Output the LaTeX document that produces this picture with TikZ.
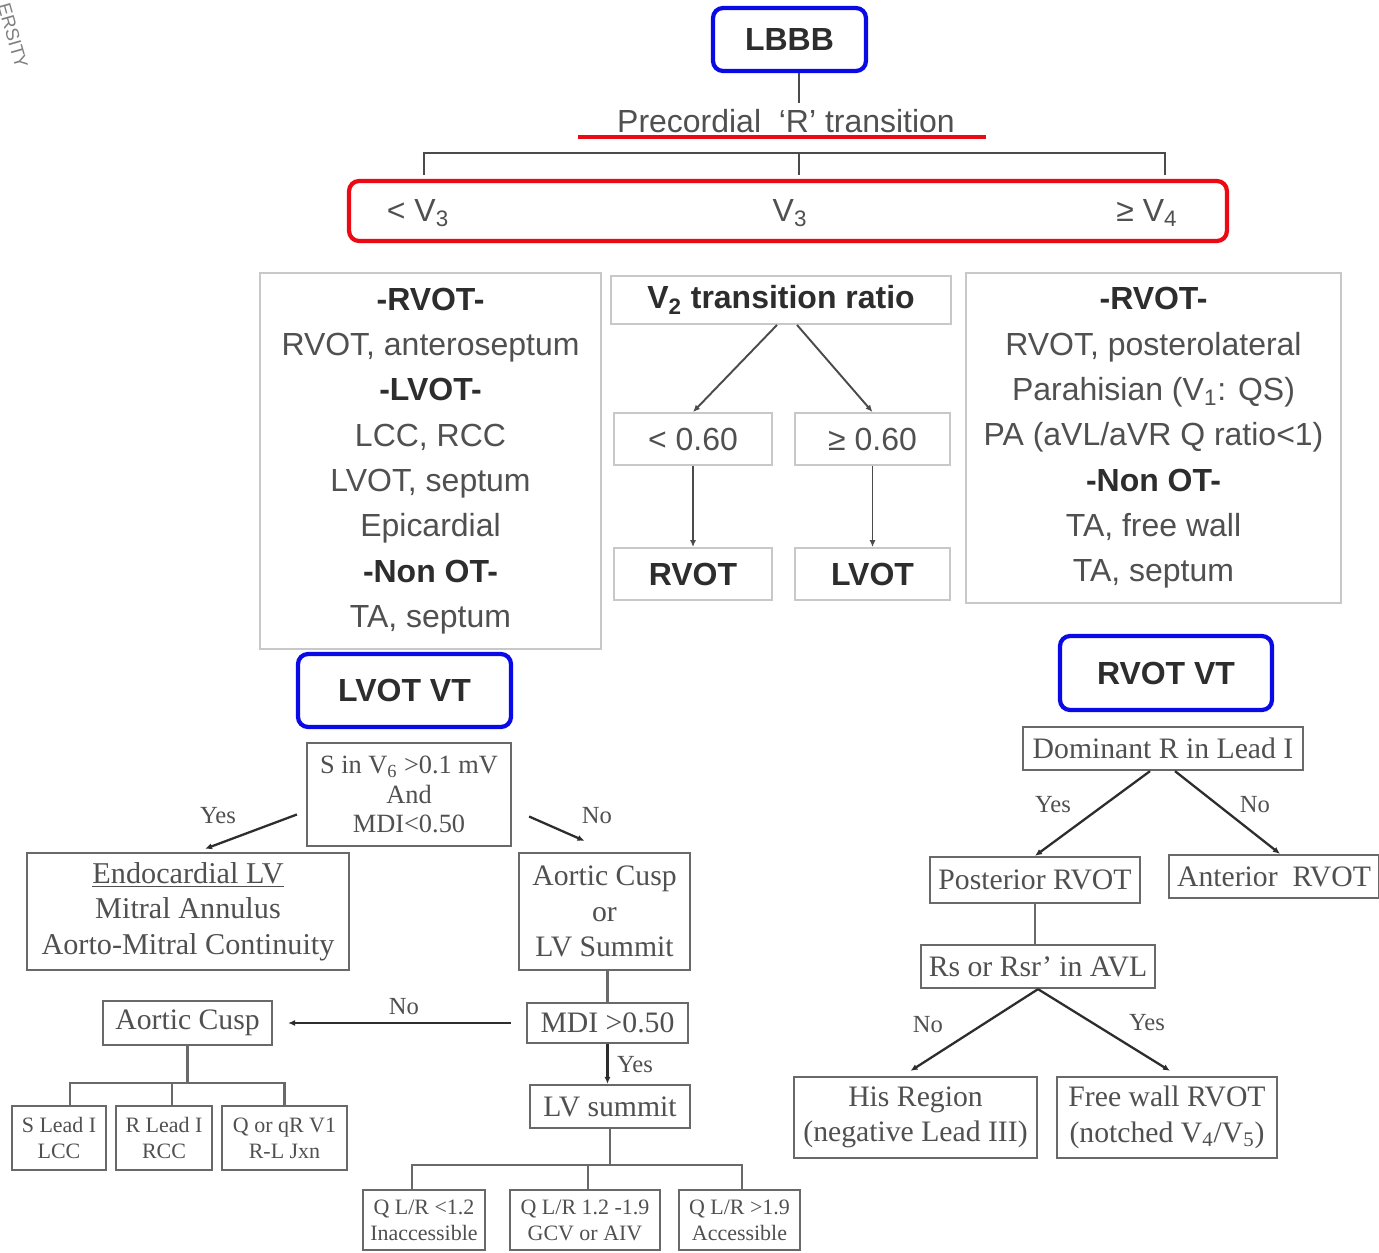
\documentclass[tikz,border=0pt]{standalone}
\usepackage{fontspec}
\setmainfont{Liberation Serif}
\setsansfont{Liberation Sans}
\usetikzlibrary{arrows.meta}
\definecolor{ecgblue}{RGB}{10,10,230}
\definecolor{ecgred}{RGB}{235,10,20}
\definecolor{softline}{RGB}{200,200,200}
\definecolor{hardline}{RGB}{105,105,105}
\definecolor{inkgray}{RGB}{80,80,80}
\definecolor{darkink}{RGB}{45,45,45}
\definecolor{wirecol}{RGB}{75,75,75}
\newcommand{\hd}[1]{\textcolor{darkink}{\bfseries #1}}

\begin{document}
\begin{tikzpicture}[x=0.02cm,y=-0.02cm,
  sansbox/.style={draw=softline,line width=1.1pt,text=inkgray,inner sep=0pt,align=center,
    font=\sffamily\fontsize{18.2}{25.8}\selectfont},
  sanstext/.style={text=inkgray,font=\sffamily\fontsize{18.2}{22}\selectfont},
  serifbox/.style={draw=hardline,line width=1.3pt,text=inkgray,inner sep=0pt,align=center,
    font=\fontsize{16.9}{20.2}\selectfont},
  smallbox/.style={serifbox,font=\fontsize{12.5}{14.8}\selectfont},
  titlebox/.style={draw=ecgblue,line width=2.4pt,rounded corners=0.2cm,inner sep=0pt,
    text=darkink,font=\sffamily\bfseries\fontsize{18.2}{22}\selectfont},
  ans/.style={text=inkgray,font=\fontsize{14}{16}\selectfont},
  wire/.style={draw=wirecol,line width=1.1pt},
  arr/.style={wire,-{Latex[length=4pt,width=3.5pt]}},
  swire/.style={draw=hardline,line width=1.3pt},
  sarr/.style={draw=darkink,line width=1.3pt,-{Latex[length=4pt,width=3.5pt]}}]
  \useasboundingbox (0,0) rectangle (1379,1253);
  \fill[white] (0,0) rectangle (1379,1253);

  % cut-off watermark in the corner
  \node[rotate=-74,text=gray,inner sep=0pt,font=\sffamily\fontsize{10.5}{11}\selectfont] (mark) at (13,36) {ERSITY};

  % top of the tree
  \node[titlebox,minimum width=3.06cm,minimum height=1.26cm] (lbbb) at (789.5,39.5) {LBBB};
  \node[sanstext] (prec) at (786,121) {Precordial\ \ `R' transition};
  \draw[ecgred,line width=2.3pt] (578,137) -- (986,137);
  \coordinate (brk) at (799,153);
  \draw[wire] (lbbb.south -| brk) -- (prec.north -| brk);

  % transition zones
  \node[draw=ecgred,line width=2.4pt,rounded corners=0.2cm,minimum width=17.56cm,minimum height=1.2cm] (trans) at (788,211) {};
  \node[sanstext] (lowv) at (418,213) {< V\textsubscript{3}};
  \node[sanstext] (midv) at (790,213) {V\textsubscript{3}};
  \node[sanstext] (highv) at (1147,213) {≥ V\textsubscript{4}};
  \coordinate (tl) at (424,175);
  \coordinate (tm) at (799,175);
  \coordinate (tr) at (1165,175);
  \draw[wire] (tl) |- (brk) -| (tr);
  \draw[wire] (brk) -- (tm);

  % left column
  \node[sansbox,minimum width=6.82cm,minimum height=7.52cm] (leftlist) at (430.5,461)
    {\hd{-RVOT-}\\RVOT, anteroseptum\\\hd{-LVOT-}\\LCC, RCC\\LVOT, septum\\Epicardial\\\hd{-Non OT-}\\TA, septum};

  % middle column
  \node[sansbox,minimum width=6.8cm,minimum height=0.96cm] (v2) at (781,300) {\hd{V\textsubscript{2} transition ratio}};
  \node[sansbox,minimum width=3.16cm,minimum height=1.04cm] (lowr) at (693,439) {< 0.60};
  \node[sansbox,minimum width=3.1cm,minimum height=1.04cm] (highr) at (872.5,439) {≥ 0.60};
  \node[sansbox,minimum width=3.16cm,minimum height=1.04cm] (rvot) at (693,574) {\hd{RVOT}};
  \node[sansbox,minimum width=3.1cm,minimum height=1.04cm] (lvot) at (872.5,574) {\hd{LVOT}};
  \draw[arr] ([xshift=-0.08cm]v2.south) -- (lowr.north);
  \draw[arr] ([xshift=0.32cm]v2.south) -- (highr.north);
  \draw[arr] (lowr) -- (rvot);
  \draw[arr] (highr) -- (lvot);

  % right column
  \node[sansbox,minimum width=7.5cm,minimum height=6.6cm] (rightlist) at (1153.5,438)
    {\hd{-RVOT-}\\RVOT, posterolateral\\Parahisian (V\textsubscript{1}: QS)\\PA (aVL/aVR Q ratio<1)\\\hd{-Non OT-}\\TA, free wall\\TA, septum};

  % LVOT VT
  \node[titlebox,minimum width=4.26cm,minimum height=1.46cm] (lvotvt) at (404.5,690.5) {LVOT VT};
  \node[serifbox,font=\fontsize{15}{17}\selectfont,minimum width=4.08cm,minimum height=2.06cm] (sv6) at (409,794.5)
    {S in V\textsubscript{6} >0.1 mV\\And\\MDI<0.50};
  \node[serifbox,font=\fontsize{17.2}{20.3}\selectfont,minimum width=6.44cm,minimum height=2.34cm] (endo) at (188,911.5)
    {\underline{Endocardial LV}\\Mitral Annulus\\Aorto-Mitral Continuity};
  \node[serifbox,minimum width=3.42cm,minimum height=2.34cm] (cusplv) at (604.5,911.5) {Aortic Cusp\\or\\LV Summit};
  \node[serifbox,minimum width=3.22cm,minimum height=0.8cm] (mdi) at (607.5,1023) {MDI >0.50};
  \node[serifbox,minimum width=3.38cm,minimum height=0.88cm] (cusp) at (187.5,1023) {Aortic Cusp};
  \node[smallbox,minimum width=1.88cm,minimum height=1.28cm] (slead) at (59,1138) {S Lead I\\LCC};
  \node[smallbox,minimum width=1.92cm,minimum height=1.28cm] (rlead) at (164,1138) {R Lead I\\RCC};
  \node[smallbox,minimum width=2.5cm,minimum height=1.28cm] (qlead) at (284.5,1138) {Q or qR V1\\R-L Jxn};
  \node[serifbox,minimum width=3.2cm,minimum height=0.86cm] (lvsum) at (610,1106.5) {LV summit};
  \node[smallbox,minimum width=2.44cm,minimum height=1.2cm] (qlr1) at (424,1220) {Q L/R <1.2\\Inaccessible};
  \node[smallbox,minimum width=3cm,minimum height=1.2cm] (qlr2) at (585,1220) {Q L/R 1.2 -1.9\\GCV or AIV};
  \node[smallbox,minimum width=2.42cm,minimum height=1.2cm] (qlr3) at (739.5,1220) {Q L/R >1.9\\Accessible};

  \draw[sarr] ([shift={(-9,20)}]sv6.west) -- ([shift={(17,-3)}]endo.north);
  \node[ans] (yes1) at (218,816) {Yes};
  \draw[sarr] ([shift={(17,22)}]sv6.east) -- ([shift={(-20,-11)}]cusplv.north);
  \node[ans] (no1) at (597,816) {No};
  \draw[swire] (mdi.north |- cusplv.south) -- (mdi.north);
  \draw[sarr] ([xshift=-0.3cm]mdi.west) -- ([xshift=0.3cm]cusp.east);
  \node[ans] (no2) at (404,1007) {No};
  \draw[sarr] (mdi.south) -- (mdi.south |- lvsum.north);
  \node[ans] (yes2) at (635,1065) {Yes};

  % aortic cusp branches
  \coordinate (cfork) at (192,1083);
  \draw[swire] (cusp.south) -- (cusp.south |- cfork);
  \draw[swire] ([xshift=0.22cm]slead.north) |- (cfork) -| (qlead.north);
  \draw[swire] ([xshift=0.16cm]rlead.north) -- ([xshift=0.16cm]rlead.north |- cfork);

  % LV summit branches
  \coordinate (lfork) at (608,1165);
  \draw[swire] (lvsum.south) -- (lvsum.south |- lfork);
  \draw[swire] ([xshift=-0.24cm]qlr1.north) |- (lfork) -| ([xshift=0.05cm]qlr3.north);
  \draw[swire] ([xshift=0.06cm]qlr2.north) -- ([xshift=0.06cm]qlr2.north |- lfork);

  % RVOT VT
  \node[titlebox,minimum width=4.24cm,minimum height=1.48cm] (rvotvt) at (1166,673) {RVOT VT};
  \node[serifbox,minimum width=5.6cm,minimum height=0.86cm] (domr) at (1163,748.5) {Dominant R in Lead I};
  \node[serifbox,minimum width=4.2cm,minimum height=0.92cm] (post) at (1035,880) {Posterior RVOT};
  \node[serifbox,minimum width=4.2cm,minimum height=0.86cm] (ant) at (1274,876.5) {Anterior\ \ RVOT};
  \node[serifbox,minimum width=4.68cm,minimum height=0.86cm] (rsavl) at (1038,966.5) {Rs or Rsr' in AVL};
  \node[serifbox,minimum width=4.86cm,minimum height=1.62cm] (his) at (915.5,1117.5) {His Region\\(negative Lead III)};
  \node[serifbox,minimum width=4.4cm,minimum height=1.62cm] (fwall) at (1167,1117.5)
    {Free wall RVOT\\(notched V\textsubscript{4}/V\textsubscript{5})};

  \draw[sarr] ([xshift=-0.26cm]domr.south) -- (post.north);
  \draw[sarr] ([xshift=0.24cm]domr.south) -- ([xshift=0.12cm]ant.north);
  \node[ans] (yes3) at (1053,805) {Yes};
  \node[ans] (no3) at (1255,805) {No};
  \draw[swire] (post.south) -- (post.south |- rsavl.north);
  \draw[sarr] (rsavl.south) -- ([shift={(-5,-5)}]his.north);
  \draw[sarr] (rsavl.south) -- ([shift={(3,-5)}]fwall.north);
  \node[ans] (no4) at (928,1025) {No};
  \node[ans] (yes4) at (1147,1023) {Yes};
\end{tikzpicture}
\end{document}
